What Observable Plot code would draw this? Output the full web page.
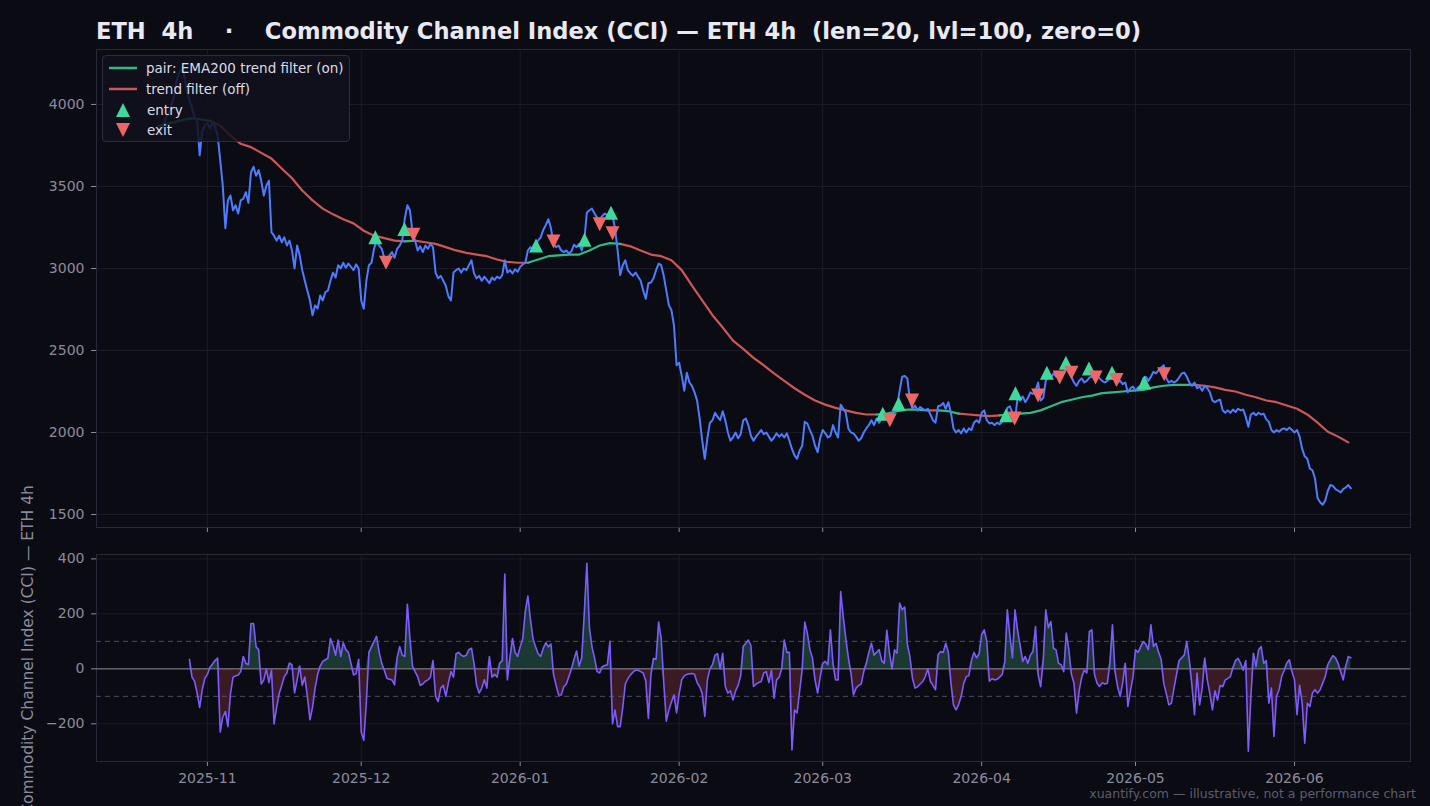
<!DOCTYPE html>
<html><head><meta charset="utf-8">
<script src="https://cdn.jsdelivr.net/npm/d3@7"></script>
<script src="https://cdn.jsdelivr.net/npm/@observablehq/plot@0.6"></script>
<style>
html,body{margin:0;padding:0;background:#0b0b14;}
#fig{position:relative;width:1430px;height:806px;background:#0b0b14;overflow:hidden;font-family:"DejaVu Sans",sans-serif;}
#fig svg{position:absolute;left:0;}
#title{position:absolute;left:96px;top:20px;font-size:22.6px;line-height:22px;font-weight:bold;color:#e9e9f2;white-space:pre;}
#legend{position:absolute;left:102px;top:55px;width:248px;height:87px;background:rgba(18,18,30,0.86);border:1px solid #2c2c40;border-radius:4px;box-sizing:border-box;}
.lrow{position:absolute;left:43px;height:20px;line-height:20px;font-size:13.5px;color:#dcdce6;white-space:pre;}
.lsw{position:absolute;left:5px;}
#footer{position:absolute;right:14px;top:786px;font-size:12.5px;color:#5c5c6e;white-space:pre;}
</style></head>
<body><div id="fig"></div>
<script>
// ---------- data ----------
const titleText = "ETH  4h    \u00b7    Commodity Channel Index (CCI) \u2014 ETH 4h  (len=20, lvl=100, zero=0)";
const yLabelText = "Commodity Channel Index (CCI) \u2014 ETH 4h";
const footerText = "xuantify.com \u2014 illustrative, not a performance chart";
const legendLabels = ["pair: EMA200 trend filter (on)", "trend filter (off)", "entry", "exit"];

const priceStart = "2025-10-22T12:00:00Z";
const stepHours = 12;
const priceValues = [
3820,3850,3870,3930,3945,3995,4055,4145,4195,4220,
4175,4085,4025,3980,3920,3900,3690,3840,3870,3885,
3855,3890,3865,3810,3660,3505,3245,3415,3445,3355,
3385,3335,3415,3425,3465,3400,3585,3620,3565,3600,
3535,3445,3505,3535,3220,3200,3170,3200,3160,3190,
3140,3170,3110,3000,3140,3080,2990,2925,2865,2805,
2715,2775,2755,2835,2805,2855,2865,2925,2975,2945,
3020,3000,3035,3005,3030,3010,2990,3025,3000,2805,
2755,2925,3020,3035,3120,3170,3140,3120,3065,3035,
3080,3100,3065,3120,3140,3170,3305,3385,3355,3220,
3170,3110,3135,3100,3140,3120,3150,3130,2975,2940,
2955,2925,2895,2830,2805,2975,2990,3000,2975,3000,
2990,3020,3050,2970,2940,2955,2925,2950,2930,2910,
2945,2930,2950,2940,2960,3050,2975,2990,2970,2995,
2980,3010,3025,3035,3110,3130,3115,3155,3170,3190,
3235,3265,3300,3245,3150,3130,3140,3110,3100,3110,
3090,3105,3145,3130,3150,3110,3170,3340,3355,3365,
3335,3310,3300,3320,3335,3325,3335,3320,3245,3110,
2960,3020,3050,2990,2970,2955,2975,2950,2925,2865,
2815,2910,2915,2940,2990,3030,3020,2955,2865,2775,
2745,2650,2410,2425,2345,2255,2365,2305,2285,2245,
2195,2085,1950,1840,1965,2060,2075,2120,2095,2075,
2130,2075,2000,1950,1970,2000,1965,1990,2075,2085,
2045,1980,1950,1975,1995,2015,1990,2000,1975,1950,
1970,1995,1975,1990,1970,1995,1950,1900,1860,1840,
1890,1920,2065,2055,2015,1980,1920,1880,1965,2015,
1995,1970,1980,2045,2000,1970,2170,2145,2120,2025,
2000,1995,1975,1950,1965,2000,2025,2045,2075,2045,
2085,2060,2085,2110,2095,2115,2105,2135,2160,2255,
2340,2345,2330,2195,2145,2165,2135,2155,2145,2135,
2145,2110,2075,2060,2160,2165,2180,2145,2185,2120,
2025,2000,2015,1995,2025,2000,2025,2015,2060,2075,
2060,2120,2135,2075,2055,2060,2045,2060,2050,2065,
2085,2150,2160,2120,2075,2215,2195,2220,2185,2210,
2245,2235,2255,2305,2195,2210,2315,2345,2335,2360,
2340,2365,2340,2370,2390,2365,2340,2305,2285,2315,
2330,2305,2315,2335,2340,2330,2345,2330,2315,2305,
2315,2340,2330,2340,2305,2315,2295,2305,2245,2270,
2280,2255,2275,2285,2330,2340,2315,2340,2370,2360,
2380,2395,2410,2330,2305,2315,2305,2315,2335,2360,
2365,2340,2305,2285,2305,2270,2280,2255,2285,2270,
2245,2195,2185,2195,2200,2135,2120,2135,2120,2140,
2125,2145,2135,2140,2095,2035,2110,2120,2105,2120,
2110,2115,2080,2065,2015,2000,2015,2005,2020,2025,
2015,2030,2015,2000,2015,1975,1900,1855,1840,1780,
1770,1720,1600,1575,1560,1585,1645,1680,1675,1655,
1645,1635,1655,1665,1680,1660];

const cciStartIndex = 12;
const cciValues = [
35,-30,-45,-88,-140,-75,-35,-20,
5,18,30,39,-230,-175,-155,-210,-90,-30,
-25,-22,-10,45,20,15,165,165,80,70,
-55,-40,0,-50,-5,-200,-140,-90,-60,-28,
-15,21,15,-88,-40,10,-60,-30,-100,-185,
-140,-70,-20,10,27,33,39,110,85,50,
105,45,95,70,60,20,-22,-18,35,-230,
-260,-120,60,80,100,118,60,20,-5,-34,
-38,-40,-58,40,81,50,45,235,110,10,
-10,-28,-60,-55,-45,-40,-30,30,-100,-119,
-70,-60,-100,-50,-10,-30,55,60,50,45,
50,70,75,20,-60,-88,-70,-40,-70,45,
-30,-20,-30,20,30,345,-40,40,110,60,
45,80,110,210,265,180,110,80,55,45,
75,95,80,90,-20,-60,-95,-95,-65,-55,
-28,0,35,65,10,40,200,384,150,80,
40,-10,-15,8,12,15,100,-200,-150,-210,
-210,-140,-55,-35,-22,-12,-5,-5,-10,-15,
-45,-180,-20,38,35,170,110,-50,-190,-150,
-120,-95,-160,-90,-40,-25,-20,-18,-17,-20,
-50,-65,-90,-173,-40,0,15,50,55,0,
57,-64,-88,-80,-113,-80,-60,-25,81,93,
105,85,-64,-55,-50,-46,-15,-10,-50,-5,
-107,-40,-30,0,105,60,60,-295,-150,-160,
-80,0,170,130,70,40,-40,-88,-30,20,
27,15,142,20,-40,-40,281,190,111,40,
-15,-95,-70,-60,-55,-10,20,60,93,50,
60,70,30,20,140,60,0,69,57,239,
215,225,90,45,-34,-70,-65,-55,-46,-28,
0,-45,-60,-76,51,63,60,93,60,-50,
-131,-149,-130,-100,-52,-28,-25,30,60,40,
55,125,142,100,-45,-36,-40,-38,-30,-20,
25,215,120,40,215,140,85,27,45,20,
50,63,154,-20,-65,30,215,150,172,75,
69,20,15,-10,130,70,-20,-52,-161,-80,
-30,-5,-15,136,142,-20,-52,-64,-50,-55,
-52,20,160,-10,-64,-100,-50,20,-137,-80,
-30,69,60,80,99,90,70,160,81,93,
60,35,-52,-90,-131,-125,-70,-20,30,40,
50,99,30,-60,-167,-15,-131,-70,39,-40,
-90,-149,-80,-113,-60,-65,-40,-35,-28,5,
30,38,20,-5,30,-300,-100,57,8,69,
81,20,30,-125,-70,-246,-100,-75,-28,-5,
21,33,-10,-40,-167,-60,-125,-270,-125,-137,
-88,-76,-88,-76,-52,-28,15,33,48,40,
20,-10,-40,10,45,40];

const emaStepHours = 48;
const emaValues = [
3870,3885,3900,3915,3910,3900,3870,3810,3760,3740,
3705,3670,3610,3550,3475,3415,3365,3330,3300,3275,
3230,3200,3185,3170,3165,3170,3160,3150,3130,3110,
3095,3085,3075,3055,3040,3035,3035,3055,3075,3080,
3085,3085,3110,3140,3155,3150,3135,3110,3085,3075,
3050,2990,2895,2805,2715,2640,2560,2510,2455,2410,
2360,2315,2270,2230,2195,2170,2150,2135,2120,2110,
2110,2115,2130,2140,2140,2135,2135,2130,2115,2110,
2105,2100,2105,2110,2115,2120,2135,2160,2185,2200,
2215,2225,2240,2245,2250,2255,2260,2275,2285,2290,
2290,2290,2285,2275,2260,2250,2230,2215,2195,2185,
2165,2145,2110,2060,2005,1975,1940];

const filterOnRanges = [
  ["2025-10-22T00:00:00Z", "2025-11-01T00:00:00Z"],
  ["2025-12-09T00:00:00Z", "2025-12-11T18:00:00Z"],
  ["2026-01-02T00:00:00Z", "2026-01-19T18:00:00Z"],
  ["2026-03-12T12:00:00Z", "2026-03-22T00:00:00Z"],
  ["2026-03-24T00:00:00Z", "2026-03-27T00:00:00Z"],
  ["2026-04-05T12:00:00Z", "2026-05-11T18:00:00Z"]];

const entryTimes = ["2025-12-03T18:00:00Z","2025-12-09T10:00:00Z","2026-01-04T02:00:00Z","2026-01-13T13:00:00Z","2026-01-18T17:00:00Z","2026-03-12T17:00:00Z","2026-03-15T19:00:00Z","2026-04-05T18:00:00Z","2026-04-07T14:00:00Z","2026-04-13T17:00:00Z","2026-04-17T10:00:00Z","2026-04-21T22:00:00Z","2026-04-26T10:00:00Z","2026-05-02T17:00:00Z"];
const entryPrices = [3190,3240,3140,3175,3340,2115,2175,2105,2240,2365,2425,2390,2365,2305];
const exitTimes = ["2025-12-05T20:00:00Z","2025-12-11T04:00:00Z","2026-01-07T12:00:00Z","2026-01-16T12:00:00Z","2026-01-19T00:00:00Z","2026-03-14T02:00:00Z","2026-03-18T10:00:00Z","2026-04-07T10:00:00Z","2026-04-12T00:00:00Z","2026-04-16T05:00:00Z","2026-04-18T12:00:00Z","2026-04-23T05:00:00Z","2026-04-27T07:00:00Z","2026-05-06T14:00:00Z"];
const exitPrices = [3035,3205,3165,3270,3215,2075,2195,2085,2225,2335,2365,2335,2320,2355];

const priceTicks = [1500,2000,2500,3000,3500,4000];
const cciTicks = [-200,0,200,400];
const cciLevels = [-100,100];
const monthTicks = ["2025-11-01","2025-12-01","2026-01-01","2026-02-01","2026-03-01","2026-04-01","2026-05-01","2026-06-01"];
const timeDomain = ["2025-10-10T09:00:00Z","2026-06-23T15:00:00Z"];

// ---------- styles ----------
const C = {
  bg:"#0b0b14", grid:"#1b1b2a", frame:"#29293c", text:"#8b8b9c",
  price:"#4f7cff", emaOn:"#34b883", emaOff:"#cd5656",
  entry:"#3fd99b", exit:"#ee6767", cci:"#7c5cff",
  fillPos:"#1a3a31", fillNeg:"#3a1b23", zero:"#8a8a98", lvl:"#4d4d60"
};

// ---------- build ----------
const H = 3600e3;
const t0 = new Date(priceStart).getTime();
const price = priceValues.map((v,i)=>({t:new Date(t0+i*stepHours*H), v}));
const cci = cciValues.map((v,i)=>({t:new Date(t0+(i+cciStartIndex)*stepHours*H), v}));
const ema = emaValues.map((v,i)=>({t:new Date(t0+i*emaStepHours*H), v}));
const ranges = filterOnRanges.map(([a,b])=>[new Date(a),new Date(b)]);
const isOn = t => ranges.some(([a,b])=>t>=a && t<=b);
const emaSegs = []; let seg=-1, prev=null;
for (let i=0;i<ema.length-1;i++){
  const mid = new Date((ema[i].t.getTime()+ema[i+1].t.getTime())/2);
  const s = isOn(mid) ? "on" : "off";
  if (s!==prev){ seg++; emaSegs.push({...ema[i], seg, s}); prev=s; }
  emaSegs.push({...ema[i+1], seg, s});
}
const entries = entryTimes.map((t,i)=>({t:new Date(t), v:entryPrices[i]}));
const exits = exitTimes.map((t,i)=>({t:new Date(t), v:exitPrices[i]}));
const months = monthTicks.map(d=>new Date(d+"T00:00:00Z"));
const tDomain = timeDomain.map(d=>new Date(d));

const upTri = {draw(ctx,size){const s=Math.sqrt(size/Math.PI);ctx.moveTo(0,-s);ctx.lineTo(s,s);ctx.lineTo(-s,s);ctx.closePath();}};
const downTri = {draw(ctx,size){const s=Math.sqrt(size/Math.PI);ctx.moveTo(0,s);ctx.lineTo(s,-s);ctx.lineTo(-s,-s);ctx.closePath();}};
const numFmt = d => d<0 ? "\u2212"+Math.abs(d) : String(d);
const baseStyle = {background:"transparent", color:C.text, fontFamily:'"DejaVu Sans", sans-serif', fontSize:"14px", overflow:"visible"};

const topPlot = Plot.plot({
  width:1430, height:535, marginLeft:96, marginRight:20, marginTop:49, marginBottom:8,
  style:baseStyle,
  x:{type:"utc", domain:tDomain, ticks:months, tickFormat:()=>"", tickSize:5, label:null},
  y:{domain:[1421,4335], ticks:priceTicks, tickSize:5, tickPadding:7, tickFormat:numFmt, label:null},
  marks:[
    Plot.ruleX(months,{stroke:C.grid}),
    Plot.ruleY(priceTicks,{stroke:C.grid}),
    Plot.frame({stroke:C.frame}),
    Plot.line(emaSegs.filter(d=>d.s==="off"),{x:"t",y:"v",z:"seg",stroke:C.emaOff,strokeWidth:2.2}),
    Plot.line(emaSegs.filter(d=>d.s==="on"),{x:"t",y:"v",z:"seg",stroke:C.emaOn,strokeWidth:2.2}),
    Plot.line(price,{x:"t",y:"v",stroke:C.price,strokeWidth:2}),
    Plot.dot(entries,{x:"t",y:"v",symbol:upTri,r:7,fill:C.entry,stroke:"none"}),
    Plot.dot(exits,{x:"t",y:"v",symbol:downTri,r:7,fill:C.exit,stroke:"none"})
  ]
});
topPlot.style.top = "0px";

const botPlot = Plot.plot({
  width:1430, height:266, marginLeft:96, marginRight:20, marginTop:14, marginBottom:45,
  style:baseStyle,
  x:{type:"utc", domain:tDomain, ticks:months, tickFormat:d3.utcFormat("%Y-%m"), tickSize:5, tickPadding:7, label:null},
  y:{domain:[-337,416], ticks:cciTicks, tickSize:5, tickPadding:7, tickFormat:numFmt, label:null},
  marks:[
    Plot.ruleX(months,{stroke:C.grid}),
    Plot.ruleY(cciTicks,{stroke:C.grid}),
    Plot.frame({stroke:C.frame}),
    Plot.areaY(cci,{x:"t",y1:0,y2:d=>Math.max(0,d.v),fill:C.fillPos}),
    Plot.areaY(cci,{x:"t",y1:0,y2:d=>Math.min(0,d.v),fill:C.fillNeg}),
    Plot.ruleY([0],{stroke:C.zero,strokeWidth:1}),
    Plot.ruleY(cciLevels,{stroke:C.lvl,strokeDasharray:"5,4",strokeWidth:1}),
    Plot.line(cci,{x:"t",y:"v",stroke:C.cci,strokeWidth:1.6})
  ]
});
botPlot.style.top = "540px";

const fig = document.getElementById("fig");
fig.appendChild(topPlot);
fig.appendChild(botPlot);

const title = document.createElement("div");
title.id = "title"; title.textContent = titleText; fig.appendChild(title);

// y label
const ns = "http://www.w3.org/2000/svg";
const ov = document.createElementNS(ns,"svg");
ov.setAttribute("width",1430); ov.setAttribute("height",806);
ov.style.position="absolute"; ov.style.left="0"; ov.style.top="0"; ov.style.pointerEvents="none";
const yl = document.createElementNS(ns,"text");
yl.setAttribute("transform","translate(33,650) rotate(-90)");
yl.setAttribute("text-anchor","middle");
yl.setAttribute("fill",C.text);
yl.setAttribute("font-family",'"DejaVu Sans", sans-serif');
yl.setAttribute("font-size","15.5");
yl.textContent = yLabelText;
ov.appendChild(yl); fig.appendChild(ov);

// legend
const lg = document.createElement("div"); lg.id="legend";
const rowsY = [12,33,53.5,74];
legendLabels.forEach((lab,i)=>{
  const sw = document.createElementNS(ns,"svg");
  sw.setAttribute("width",30); sw.setAttribute("height",20);
  sw.setAttribute("class","lsw"); sw.style.position="absolute"; sw.style.left="5px"; sw.style.top=(rowsY[i]-10)+"px";
  if (i<2){
    const l=document.createElementNS(ns,"line");
    l.setAttribute("x1",1);l.setAttribute("x2",29);l.setAttribute("y1",10);l.setAttribute("y2",10);
    l.setAttribute("stroke", i===0?C.emaOn:C.emaOff); l.setAttribute("stroke-width",2.5);
    sw.appendChild(l);
  } else {
    const p=document.createElementNS(ns,"path");
    p.setAttribute("d", i===2 ? "M15,3L22,17L8,17Z" : "M15,17L22,3L8,3Z");
    p.setAttribute("fill", i===2?C.entry:C.exit);
    sw.appendChild(p);
  }
  lg.appendChild(sw);
  const tx = document.createElement("div"); tx.className="lrow"; tx.style.top=(rowsY[i]-10)+"px";
  tx.style.left = (i<2?43:44)+"px";
  tx.textContent = lab; lg.appendChild(tx);
});
fig.appendChild(lg);

const ft = document.createElement("div"); ft.id="footer"; ft.textContent=footerText; fig.appendChild(ft);
</script>
</body></html>
